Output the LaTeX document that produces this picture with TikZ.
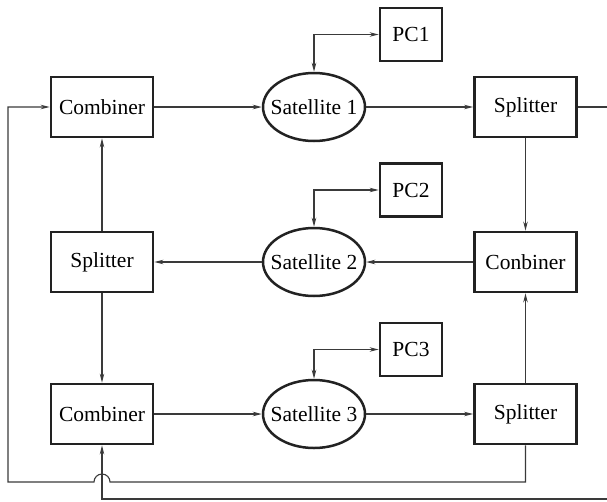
\documentclass[tikz,border=0pt]{standalone}
\usepackage{fontspec}
\setmainfont{Liberation Serif}
\usetikzlibrary{arrows.meta,shapes.geometric,calc}
\definecolor{edgecol}{HTML}{222222}
\definecolor{linecol}{HTML}{3A3A3A}
\tikzset{
  blk/.style={draw=edgecol, line width=2.8pt, minimum width=102pt, minimum height=60pt, inner sep=0pt, font=\fontsize{21.5}{25}\selectfont},
  pcbox/.style={draw=edgecol, line width=2.8pt, minimum width=62pt, minimum height=53pt, inner sep=0pt, font=\fontsize{21.5}{25}\selectfont},
  sat/.style={draw=edgecol, ellipse, line width=2.5pt, minimum width=102pt, minimum height=68pt, inner sep=0pt, font=\fontsize{21.5}{25}\selectfont},
  conn/.style={draw=linecol, line width=1.1pt},
  arr/.style={conn, -{Stealth[length=9pt,width=4.5pt]}},
  darr/.style={conn, {Stealth[length=9pt,width=4.5pt]}-{Stealth[length=9pt,width=4.5pt]}}
}
\begin{document}
\begin{tikzpicture}[x=1pt,y=-1pt]
\useasboundingbox (0,0) rectangle (607,501);
% row 1
\node[blk] (c1) at (102,107) {Combiner};
\node[sat] (s1) at (314,107) {\makebox[0pt][c]{Satellite 1}};
\node[blk] (sp1) at (525.5,107) {Splitter};
\node[pcbox] (pc1) at (411,34.5) {PC1};
% row 2
\node[blk] (sp2) at (102,262) {Splitter};
\node[sat] (s2) at (314,262) {\makebox[0pt][c]{Satellite 2}};
\node[blk] (cb2) at (525.5,262) {Conbiner};
\node[pcbox] (pc2) at (411,190) {PC2};
% row 3
\node[blk] (cb3) at (102,414) {Combiner};
\node[sat] (s3) at (314,414) {\makebox[0pt][c]{Satellite 3}};
\node[blk] (sp3) at (525.5,414) {Splitter};
\node[pcbox] (pc3) at (411,349.5) {PC3};
% free ends
\coordinate (re) at (607,107);
\coordinate (lb) at (8,482);
\coordinate (rb) at (607,499);
% row 1 connectors
\draw[arr] (c1) -- (s1);
\draw[arr] (s1) -- (sp1);
\draw[conn] (sp1.east) -- (re);
\draw[darr] (s1.north) |- (pc1.west);
% row 2
\draw[arr] (cb2) -- (s2);
\draw[arr] (s2) -- (sp2);
\draw[darr] (s2.north) |- (pc2.west);
% row 3
\draw[arr] (cb3) -- (s3);
\draw[arr] (s3) -- (sp3);
\draw[darr] (s3.north) |- (pc3.west);
% verticals
\draw[arr] (sp1) -- (cb2);
\draw[arr] (sp3) -- (cb2);
\draw[arr] (sp2) -- (c1);
\draw[arr] (sp2) -- (cb3);
% feedback loops
\draw[arr] (sp3.south) |- ($(cb3.south |- lb)+(8,0)$) arc[start angle=0,end angle=180,radius=8pt] -- (lb) |- (c1.west);
\draw[arr] (rb) -| (cb3.south);
\end{tikzpicture}
\end{document}
